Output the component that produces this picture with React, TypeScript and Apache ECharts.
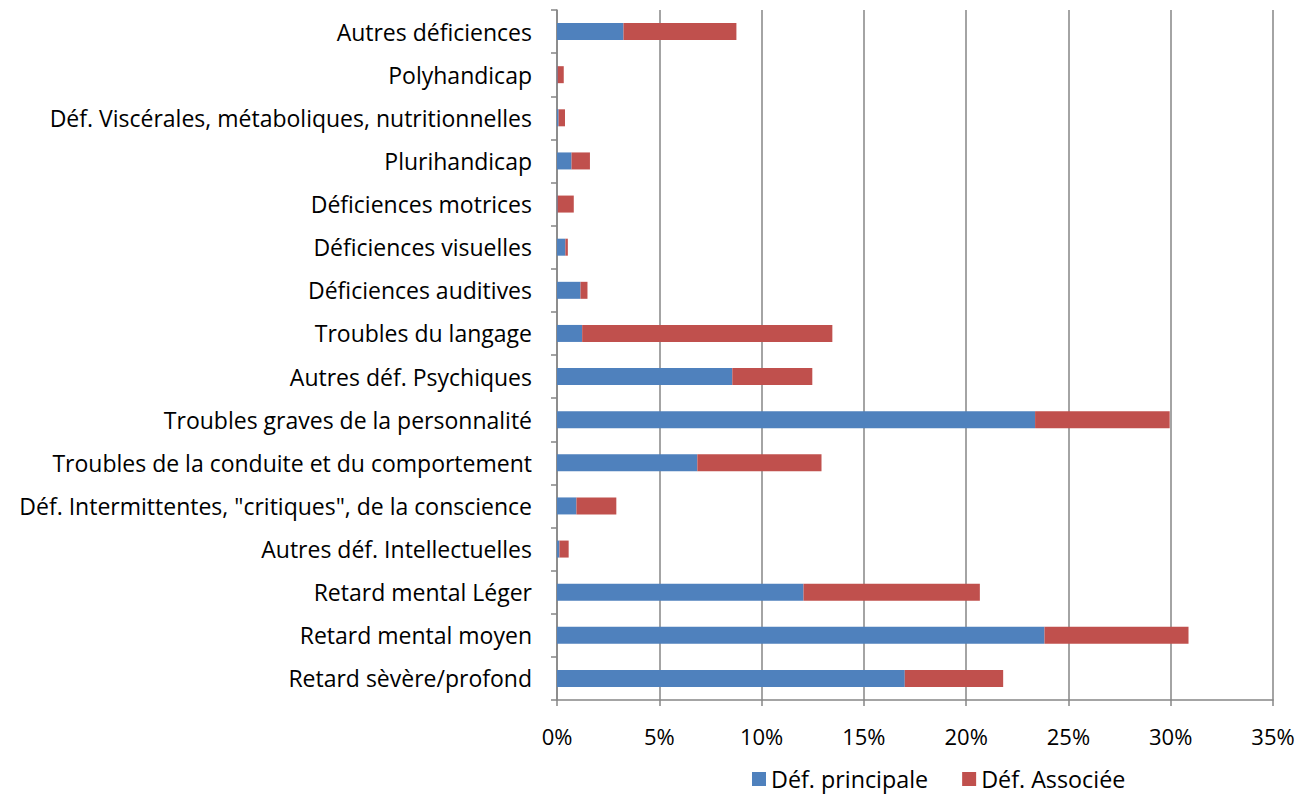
import React, { useEffect, useRef } from "react";
import * as echarts from "echarts";

const categories = [
  "Retard sèvère/profond",
  "Retard mental moyen",
  "Retard mental Léger",
  "Autres déf. Intellectuelles",
  "Déf. Intermittentes, \"critiques\", de la conscience",
  "Troubles de la conduite et du comportement",
  "Troubles graves de la personnalité",
  "Autres déf. Psychiques",
  "Troubles du langage",
  "Déficiences auditives",
  "Déficiences visuelles",
  "Déficiences motrices",
  "Plurihandicap",
  "Déf. Viscérales, métaboliques, nutritionnelles",
  "Polyhandicap",
  "Autres déficiences",
];

const principale = [17.0, 23.83, 12.05, 0.12, 0.95, 6.86, 23.37, 8.57, 1.23, 1.15, 0.41, 0.03, 0.71, 0.08, 0.03, 3.25];
const associee = [4.81, 7.04, 8.62, 0.45, 1.95, 6.07, 6.58, 3.91, 12.23, 0.34, 0.12, 0.79, 0.9, 0.31, 0.3, 5.52];

const seriesNames = ["Déf. principale", "Déf. Associée"];
const FONT = "Open Sans";

export default function App() {
  const ref = useRef<HTMLDivElement>(null);
  useEffect(() => {
    if (!ref.current) return;
    const chart = echarts.init(ref.current, null, { renderer: "svg" });
    chart.setOption({
      animation: false,
      backgroundColor: "#ffffff",
      textStyle: { fontFamily: FONT },
      grid: { left: 557, right: 33, top: 10, bottom: 96, containLabel: false },
      legend: {
        left: 752,
        top: 766,
        padding: 0,
        itemWidth: 14,
        itemHeight: 14,
        itemGap: 34,
        icon: "rect",
        textStyle: { fontFamily: FONT, fontSize: 23.3, color: "#000", lineHeight: 26 },
        data: seriesNames,
      },
      xAxis: {
        type: "value",
        min: 0,
        max: 35,
        interval: 5,
        axisLine: { show: true, lineStyle: { color: "#868686", width: 1.5 } },
        axisTick: { show: true, length: 6, lineStyle: { color: "#868686", width: 1.5 } },
        splitLine: { show: true, lineStyle: { color: "#868686", width: 1.5 } },
        axisLabel: {
          formatter: "{value}%",
          fontFamily: FONT,
          fontSize: 22,
          color: "#000",
          margin: 25,
        },
      },
      yAxis: {
        type: "category",
        data: categories,
        axisLine: { show: true, lineStyle: { color: "#868686", width: 1.5 } },
        axisTick: { show: true, length: 6, lineStyle: { color: "#868686", width: 1.5 } },
        axisLabel: {
          fontFamily: FONT,
          fontSize: 23,
          color: "#000",
          margin: 25,
        },
      },
      series: [
        {
          name: seriesNames[0],
          type: "bar",
          stack: "total",
          barWidth: 17,
          data: principale,
          itemStyle: { color: "#4F81BD" },
        },
        {
          name: seriesNames[1],
          type: "bar",
          stack: "total",
          barWidth: 17,
          data: associee,
          itemStyle: { color: "#C0504D" },
        },
      ],
    });
    return () => chart.dispose();
  }, []);
  return <div ref={ref} style={{ width: 1306, height: 796, position: "absolute", left: 0, top: 0 }} />;
}
